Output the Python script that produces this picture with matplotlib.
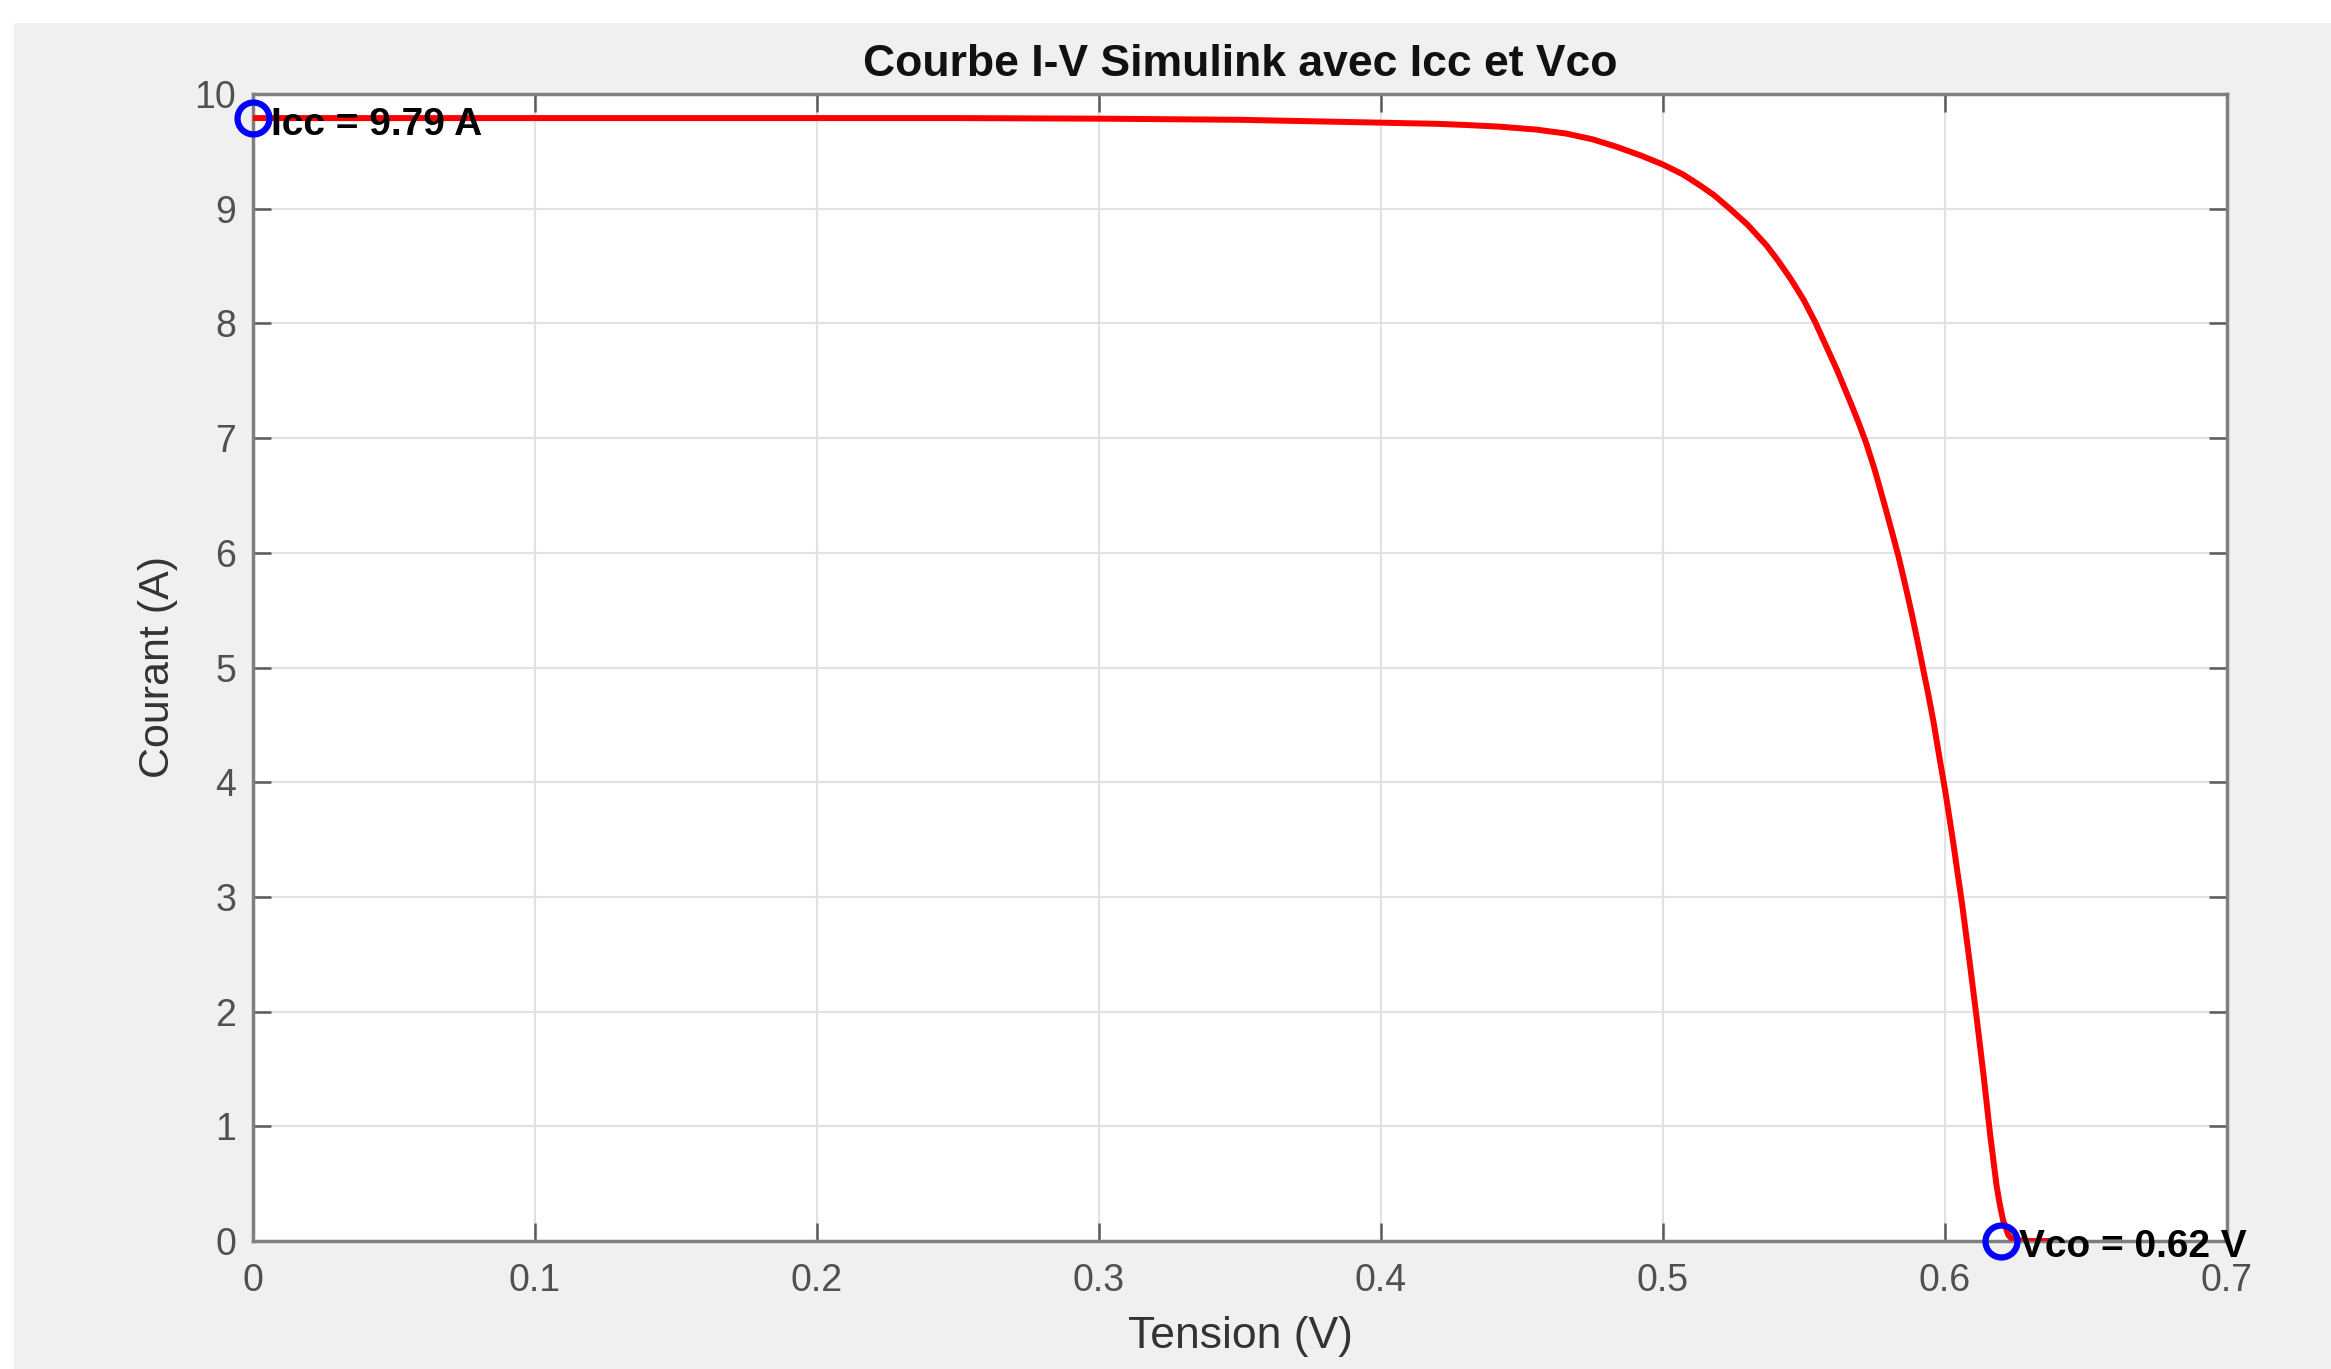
import matplotlib.pyplot as plt
from matplotlib.patches import Rectangle

# I-V curve (tension in V, courant in A)
tension = [0.0, 0.05, 0.1, 0.15, 0.2, 0.25, 0.3, 0.35, 0.4, 0.42, 0.43, 0.4422,
           0.455, 0.4657, 0.475, 0.4835, 0.492, 0.5, 0.507, 0.513, 0.518, 0.5237,
           0.53, 0.5367, 0.541, 0.5455, 0.55, 0.554, 0.5616, 0.567, 0.5695, 0.572,
           0.575, 0.5781, 0.581, 0.5835, 0.586, 0.5882, 0.590, 0.5923, 0.594,
           0.5959, 0.598, 0.6001, 0.6015, 0.603, 0.6045, 0.606, 0.6087, 0.6112,
           0.6137, 0.616, 0.6183, 0.6195, 0.6206, 0.6225, 0.6241, 0.63, 0.637]
courant = [9.79, 9.79, 9.79, 9.79, 9.79, 9.79, 9.785, 9.775, 9.75, 9.74, 9.73, 9.715,
           9.69, 9.655, 9.605, 9.54, 9.465, 9.385, 9.30, 9.205, 9.12, 9.0,
           8.86, 8.68, 8.54, 8.38, 8.20, 8.01, 7.6, 7.28, 7.125, 6.96,
           6.73, 6.46, 6.2, 5.97, 5.71, 5.47, 5.26, 4.98, 4.775,
           4.53, 4.22, 3.92, 3.7, 3.46, 3.2, 2.95, 2.44, 1.95,
           1.44, 0.93, 0.48, 0.31, 0.18, 0.05, 0.01, 0.0, 0.0]

# points remarquables
icc = (0.0, 9.79)
vco = (0.62, 0.0)
icc_label = "Icc = 9.79 A"
vco_label = "Vco = 0.62 V"

x_ticks = [0, 0.1, 0.2, 0.3, 0.4, 0.5, 0.6, 0.7]
x_tick_labels = ["0", "0.1", "0.2", "0.3", "0.4", "0.5", "0.6", "0.7"]
y_ticks = [0, 1, 2, 3, 4, 5, 6, 7, 8, 9, 10]

plt.rcParams['font.family'] = ['Liberation Sans', 'DejaVu Sans']

W, H = 2331, 1369
fig = plt.figure(figsize=(W / 100, H / 100), dpi=100, facecolor='white')
# grey matlab figure panel (screenshot has a thin white strip top and left)
fig.patches.append(Rectangle((14 / W, 0), 1, 1 - 23 / H, transform=fig.transFigure,
                             facecolor='#f0f0f0', edgecolor='none', zorder=-10))

ax = fig.add_axes([253 / W, 1 - 1241 / H, (2227 - 253) / W, (1241 - 94) / H])
ax.set_facecolor('white')

ax.plot(tension, courant, color='#ff0000', linewidth=4.3, zorder=3,
        solid_joinstyle='round')
ax.plot([icc[0], vco[0]], [icc[1], vco[1]], linestyle='none', marker='o',
        markersize=23, markerfacecolor='none', markeredgecolor='#0000ff',
        markeredgewidth=4.5, zorder=4, clip_on=False)

ax.annotate(icc_label, xy=icc, xytext=(13, -5), textcoords='offset points',
            fontsize=28, fontweight='bold', color='black', va='center', ha='left',
            zorder=5, annotation_clip=False)
ax.annotate(vco_label, xy=vco, xytext=(13, -4), textcoords='offset points',
            fontsize=28, fontweight='bold', color='black', va='center', ha='left',
            zorder=5, annotation_clip=False)

ax.set_xlim(0, 0.7)
ax.set_ylim(0, 10)
ax.set_xticks(x_ticks)
ax.set_xticklabels(x_tick_labels)
ax.set_yticks(y_ticks)

ax.grid(True, color='#e2e2e2', linewidth=1.5)
ax.set_axisbelow(True)
for side in ['top', 'bottom', 'left', 'right']:
    ax.spines[side].set_color('#7f7f7f')
    ax.spines[side].set_linewidth(2.5)
ax.tick_params(direction='in', length=13, width=1.8, color='#5a5a5a',
               top=True, right=True, labelsize=27, labelcolor='#505050')
ax.tick_params(axis='x', pad=16)
ax.tick_params(axis='y', pad=12)

ax.set_title("Courbe I-V Simulink avec Icc et Vco", fontsize=32, fontweight='bold',
             color='#111111', pad=13)
ax.set_xlabel("Tension (V)", fontsize=32, color='#333333', labelpad=12)
ax.set_ylabel("Courant (A)", fontsize=31, color='#333333', labelpad=12)

fig.savefig('out.png', dpi=100, facecolor=fig.get_facecolor())
